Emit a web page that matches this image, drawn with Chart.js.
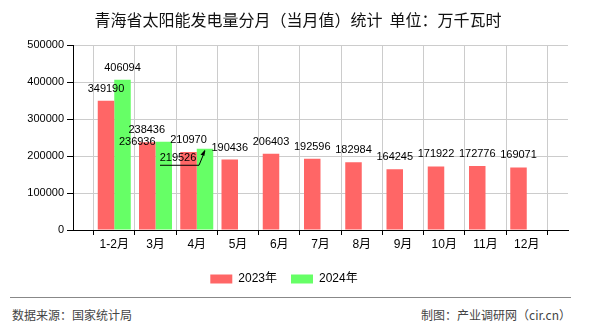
<!DOCTYPE html>
<html>
<head>
<meta charset="utf-8">
<script src="https://cdn.jsdelivr.net/npm/chart.js@4"></script>
<style>
  body { margin: 0; background: #fff; font-family: "Noto Sans CJK SC", "Liberation Sans", sans-serif; }
  #wrap { position: relative; width: 590px; height: 330px; overflow: hidden; }
  #title { position: absolute; top: 7px; left: 0; width: 596px; text-align: center; font-size: 16px; color: #111; line-height: 24px; }
  #box { position: absolute; left: 0; top: 0; width: 590px; height: 295px; }
  #rule { position: absolute; left: 10px; top: 297px; width: 561px; height: 0; border-top: 1px solid #888; }
  .foot { position: absolute; top: 306px; font-size: 12px; color: #444; line-height: 18px; }
</style>
</head>
<body>
<div id="wrap">
  <div id="box"><canvas id="solarChart"></canvas></div>
  <div id="title">青海省太阳能发电量分月（当月值）统计&nbsp;&nbsp;单位：万千瓦时</div>
  <div id="rule"></div>
  <div class="foot" style="left:12px">数据来源：国家统计局</div>
  <div class="foot" style="right:19px">制图：产业调研网（cir.cn）</div>
</div>
<script>
// monthly values, 10k kWh
const months = ['1-2月', '3月', '4月', '5月', '6月', '7月', '8月', '9月', '10月', '11月', '12月'];
const y2023 = [349190, 236936, 210970, 190436, 206403, 192596, 182984, 164245, 171922, 172776, 169071];
const y2024 = [406094, 238436, 219526];
const yTicks = [0, 100000, 200000, 300000, 400000, 500000];

// empty slot on both ends so the axis runs one step past the first and last month
const labels = [''].concat(months, ['']);
const pad = (arr) => [null].concat(months.map((m, i) => (i < arr.length ? arr[i] : null)), [null]);

// a few labels get moved so they don't collide (dataset index -> data index -> [dx, dy])
const nudge = { 0: { 2: [-10, 12] }, 1: { 2: [-17, 0], 3: [-27, 21] } };

const valueLabels = {
  id: 'valueLabels',
  afterDatasetsDraw(chart) {
    const c = chart.ctx;
    c.save();
    c.font = '11px "Liberation Sans", sans-serif';
    c.fillStyle = '#000';
    c.textAlign = 'center';
    c.textBaseline = 'middle';
    chart.data.datasets.forEach((ds, di) => {
      chart.getDatasetMeta(di).data.forEach((bar, i) => {
        const v = ds.data[i];
        if (v == null) return;
        const n = (nudge[di] && nudge[di][i]) || [0, 0];
        const x = bar.x + n[0], y = bar.y - 12 + n[1];
        c.fillText(String(v), x, y);
        if (di === 1 && i === 3) {
          // leader arrow back to the bar top
          c.strokeStyle = '#000';
          c.lineWidth = 1;
          c.beginPath();
          c.moveTo(x - 18, y + 7.5);
          c.lineTo(x + 21, y + 7.5);
          c.lineTo(bar.x, bar.y + 2);
          c.stroke();
          c.beginPath();
          c.moveTo(bar.x, bar.y + 1);
          c.lineTo(bar.x - 4.5, bar.y + 6);
          c.lineTo(bar.x - 0.5, bar.y + 7);
          c.closePath();
          c.fillStyle = '#000';
          c.fill();
        }
      });
    });
    c.restore();
  }
};

new Chart(document.getElementById('solarChart'), {
  type: 'bar',
  data: {
    labels: labels,
    datasets: [
      { label: '2023年', data: pad(y2023), backgroundColor: '#FF6666' },
      { label: '2024年', data: pad(y2024), backgroundColor: '#66FF66' }
    ]
  },
  options: {
    responsive: true,
    maintainAspectRatio: false,
    animation: false,
    datasets: { bar: { categoryPercentage: 0.8, barPercentage: 1.0 } },
    layout: { padding: { top: 45, left: 0, right: 22, bottom: 0 } },
    scales: {
      x: {
        offset: false,
        grid: { color: '#cccccc', tickColor: '#000', tickLength: 5, drawOnChartArea: true },
        border: { color: '#000' },
        ticks: { color: '#000', font: { size: 12, family: '"Liberation Sans", "Noto Sans CJK SC", sans-serif' }, padding: 2, maxRotation: 0, autoSkip: false },
        afterFit: (s) => { s.height = 29; }
      },
      y: {
        min: 0,
        max: 500000,
        afterBuildTicks: (s) => { s.ticks = yTicks.map(v => ({ value: v })); },
        grid: { color: '#cccccc', tickColor: '#000', tickLength: 6 },
        border: { color: '#000' },
        ticks: { color: '#000', font: { size: 11, family: '"Liberation Sans", sans-serif' }, padding: 3, callback: (v) => String(v) },
        afterFit: (s) => { s.width = 73; }
      }
    },
    plugins: {
      legend: {
        position: 'bottom',
        labels: { boxWidth: 22, boxHeight: 9, padding: 14, color: '#000', font: { size: 12, family: '"Liberation Sans", "Noto Sans CJK SC", sans-serif' } }
      },
      tooltip: { enabled: false }
    }
  },
  plugins: [valueLabels]
});
</script>
</body>
</html>
